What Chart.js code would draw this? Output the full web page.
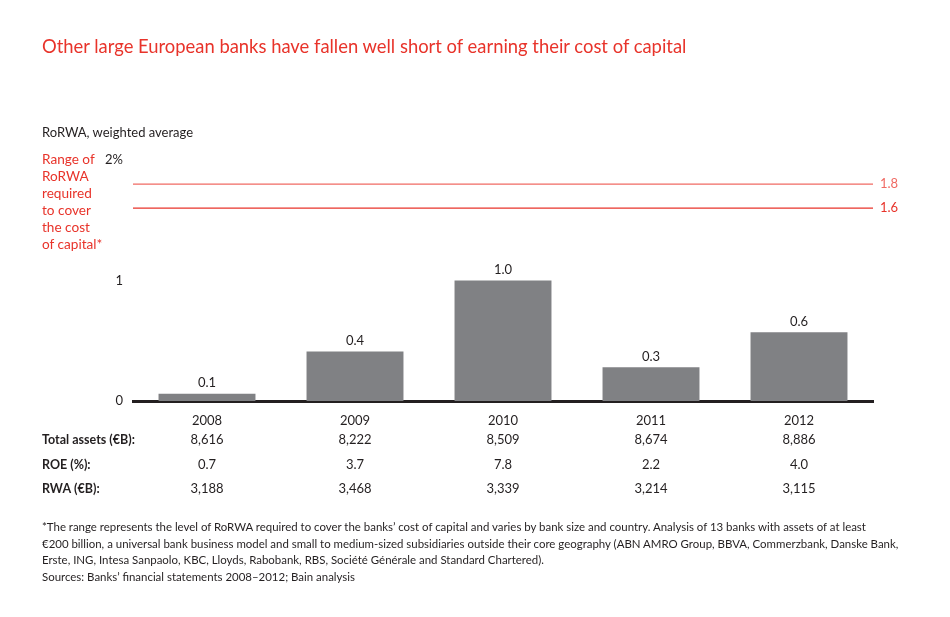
<!DOCTYPE html>
<html>
<head>
    <script src="https://cdn.jsdelivr.net/npm/chart.js@4.4.0/dist/chart.umd.min.js"></script>
    <style>
        body { margin: 0; background: #fff; font-family: Lato, "Open Sans", sans-serif; color: #231f20; }
        .wrap { position: relative; width: 950px; height: 617px; }
        canvas { position: absolute; left: 0; top: 0; }
        .title { position: absolute; left: 42px; top: 35px; font-size: 18.4px; color: #e8332a; white-space: nowrap; }
        .sub { position: absolute; left: 42px; top: 124px; font-size: 13px; }
        .range { position: absolute; left: 42px; top: 151px; font-size: 13.6px; line-height: 17px; color: #e8332a; }
        .note { position: absolute; left: 42px; top: 519px; font-size: 11.45px; line-height: 16.5px; white-space: nowrap; }
    </style>
</head>
<body>
<div class="wrap">
    <canvas id="chart" width="950" height="617"></canvas>
    <div class="title">Other large European banks have fallen well short of earning their cost of capital</div>
    <div class="sub">RoRWA, weighted average</div>
    <div class="range">Range of<br>RoRWA<br>required<br>to cover<br>the cost<br>of capital*</div>
    <div class="note">*The range represents the level of RoRWA required to cover the banks’ cost of capital and varies by bank size and country. Analysis of 13 banks with assets of at least<br>€200 billion, a universal bank business model and small to medium-sized subsidiaries outside their core geography (ABN AMRO Group, BBVA, Commerzbank, Danske Bank,<br>Erste, ING, Intesa Sanpaolo, KBC, Lloyds, Rabobank, RBS, Société Générale and Standard Chartered).<br>Sources: Banks’ financial statements 2008–2012; Bain analysis</div>
</div>

<script>
    const years = ['2008', '2009', '2010', '2011', '2012'];
    const rorwa = [0.06, 0.41, 1.0, 0.28, 0.57];
    const rorwaLabels = ['0.1', '0.4', '1.0', '0.3', '0.6'];
    const rangeLines = [1.8, 1.6];
    const rangeLabels = ['1.8', '1.6'];
    const rowHeads = ['Total assets (€B):', 'ROE (%):', 'RWA (€B):'];
    const totalAssets = ['8,616', '8,222', '8,509', '8,674', '8,886'];
    const roe = ['0.7', '3.7', '7.8', '2.2', '4.0'];
    const rwa = ['3,188', '3,468', '3,339', '3,214', '3,115'];

    const RED = '#e8332a';
    const INK = '#231f20';
    const FONT = 'Lato, "Open Sans", sans-serif';

    // red lines, bar labels and the table under the axis
    const extras = {
        id: 'extras',
        afterDatasetsDraw(chart) {
            const ctx = chart.ctx;
            const x = chart.scales.x, y = chart.scales.y;
            const area = chart.chartArea;
            ctx.save();

            rangeLines.forEach((v, i) => {
                const py = y.getPixelForValue(v);
                ctx.strokeStyle = i === 0 ? '#f06a63' : RED;
                ctx.lineWidth = 1.2;
                ctx.beginPath();
                ctx.moveTo(area.left, py);
                ctx.lineTo(area.right, py);
                ctx.stroke();
                ctx.fillStyle = i === 0 ? '#f06a63' : RED;
                ctx.font = '13px ' + FONT;
                ctx.textAlign = 'left';
                ctx.textBaseline = 'middle';
                ctx.fillText(rangeLabels[i], area.right + 7, py);
            });

            ctx.fillStyle = INK;
            ctx.font = '13px ' + FONT;
            ctx.textAlign = 'center';
            ctx.textBaseline = 'bottom';
            chart.getDatasetMeta(0).data.forEach((bar, i) => {
                ctx.fillText(rorwaLabels[i], bar.x, bar.y - 4);
            });

            const rows = [totalAssets, roe, rwa];
            const rowY = [440, 465, 489];
            ctx.textBaseline = 'middle';
            rows.forEach((row, r) => {
                ctx.textAlign = 'left';
                ctx.font = 'bold 12.5px ' + FONT;
                ctx.fillText(rowHeads[r], 42, rowY[r]);
                ctx.textAlign = 'center';
                ctx.font = '13px ' + FONT;
                row.forEach((val, i) => ctx.fillText(val, x.getPixelForValue(i), rowY[r]));
            });
            ctx.restore();
        }
    };

    new Chart(document.getElementById('chart'), {
        type: 'bar',
        data: {
            labels: years,
            datasets: [{
                data: rorwa,
                backgroundColor: '#808184',
                barPercentage: 0.655,
                categoryPercentage: 1
            }]
        },
        options: {
            responsive: false,
            animation: false,
            layout: { padding: { top: 160, left: 0, right: 77, bottom: 0 } },
            plugins: { legend: { display: false }, tooltip: { enabled: false } },
            scales: {
                x: {
                    grid: { display: false },
                    border: { display: true, color: INK, width: 3 },
                    ticks: { color: INK, font: { family: FONT, size: 13 }, padding: 4 },
                    afterFit: s => { s.height = 216; }
                },
                y: {
                    min: 0, max: 2,
                    grid: { display: false },
                    border: { display: false },
                    ticks: {
                        stepSize: 1,
                        color: INK,
                        font: { family: FONT, size: 13 },
                        padding: 2,
                        callback: v => v === 2 ? '2%' : v
                    },
                    afterFit: s => { s.width = 133; }
                }
            }
        },
        plugins: [extras]
    });
</script>
</body>
</html>
